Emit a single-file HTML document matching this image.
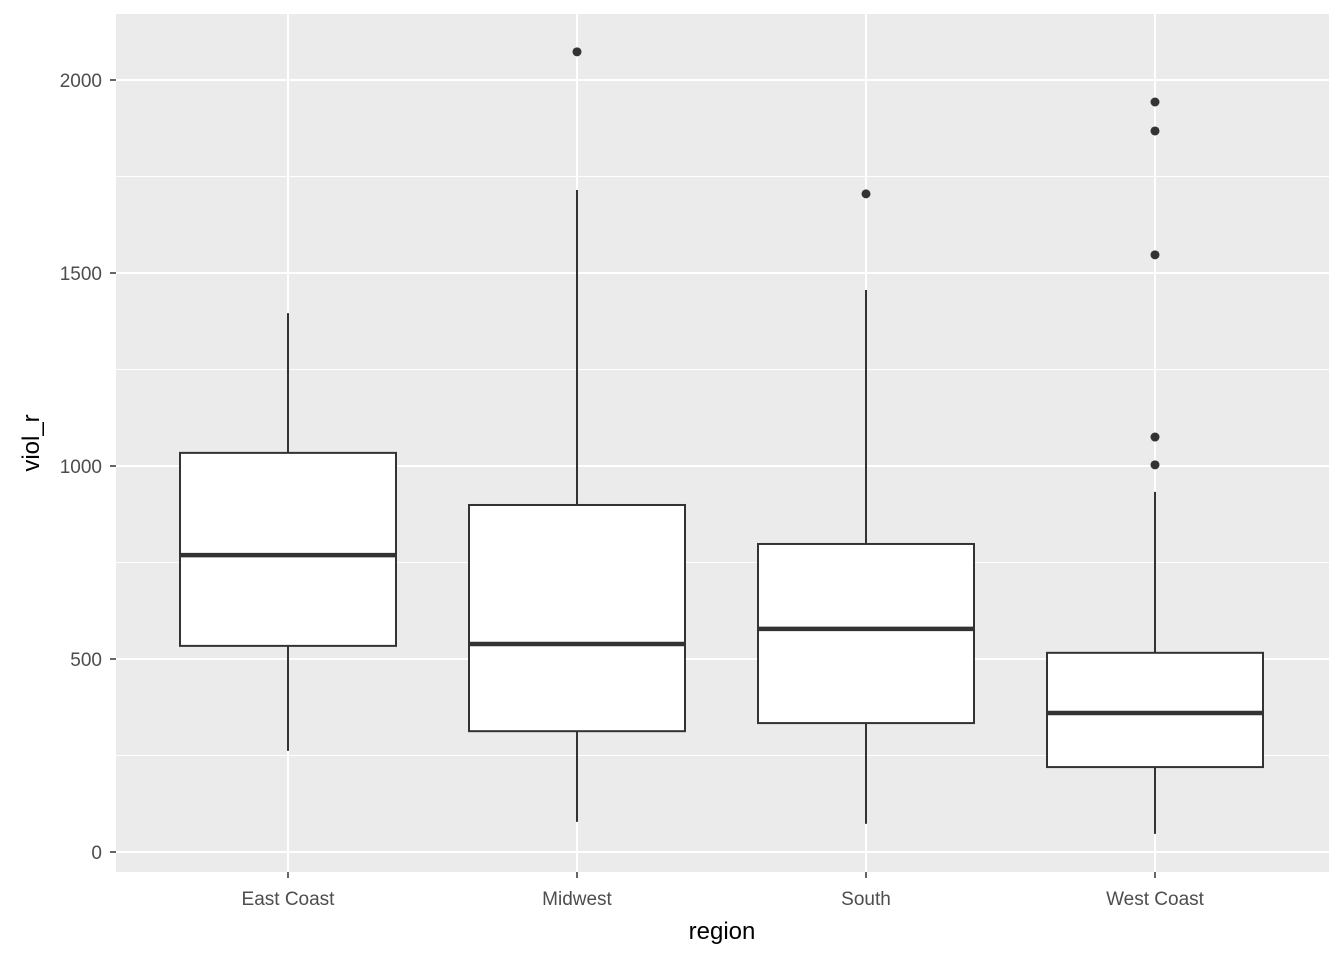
<!DOCTYPE html>
<html><head><meta charset="utf-8"><style>
body{margin:0;background:#fff;}
svg{display:block;font-family:"Liberation Sans",Arial,sans-serif;}
</style></head><body>
<svg id="chart" width="1344" height="960" xmlns="http://www.w3.org/2000/svg">
<rect x="116" y="14" width="1213" height="858" fill="#ebebeb"/>
<g id="grid"></g>
<g id="boxes"></g>
<g id="axes"></g>
<text x="722" y="939" font-size="24" text-anchor="middle" fill="#000">region</text>
<text transform="translate(39,443) rotate(-90)" font-size="24" text-anchor="middle" fill="#000">viol_r</text>
</svg>
<script>
const categories = ["East Coast","Midwest","South","West Coast"];
const whiskerLow = [262, 78, 73, 47];
const q1 = [534, 313, 334, 220];
const medians = [769, 539, 578, 360];
const q3 = [1034, 899, 798, 516];
const whiskerHigh = [1396, 1715, 1456, 933];
const outliers = [[], [2073], [1705], [1943, 1868, 1547, 1075, 1003]];
const yTicks = [0, 500, 1000, 1500, 2000];
const yMinor = [250, 750, 1250, 1750];

const NS = "http://www.w3.org/2000/svg";
const y = v => 852 - v * 0.386;
const x = i => 288 + i * 289;
const bw = 216;
function mk(tag, attrs, parent){const e=document.createElementNS(NS,tag);for(const k in attrs)e.setAttribute(k,attrs[k]);parent.appendChild(e);return e;}
const grid=document.getElementById('grid'), boxes=document.getElementById('boxes'), axes=document.getElementById('axes');
yMinor.forEach(v=>{const l=mk('line',{x1:116,x2:1329,y1:y(v),y2:y(v),stroke:'#fff','stroke-width':1},grid);

});
yTicks.forEach(v=>{const l=mk('line',{x1:116,x2:1329,y1:y(v),y2:y(v),stroke:'#fff','stroke-width':2},grid);


const t=mk('line',{x1:110,x2:116,y1:y(v),y2:y(v),stroke:'#333','stroke-width':1.5},axes);


const lb=mk('text',{x:102,y:y(v)+7,'font-size':19,'text-anchor':'end',fill:'#4d4d4d'},axes);lb.textContent=v;

});
categories.forEach((c,i)=>{const l=mk('line',{x1:x(i),x2:x(i),y1:14,y2:872,stroke:'#fff','stroke-width':2},grid);


const t=mk('line',{x1:x(i),x2:x(i),y1:872,y2:878,stroke:'#333','stroke-width':1.5},axes);


const lb=mk('text',{x:x(i),y:905,'font-size':19,'text-anchor':'middle',fill:'#4d4d4d'},axes);lb.textContent=c;


const g=mk('g',{},boxes);


mk('line',{x1:x(i),x2:x(i),y1:y(whiskerHigh[i]),y2:y(q3[i]),stroke:'#333','stroke-width':2},g);
mk('line',{x1:x(i),x2:x(i),y1:y(q1[i]),y2:y(whiskerLow[i]),stroke:'#333','stroke-width':2},g);
mk('rect',{x:x(i)-bw/2,y:y(q3[i]),width:bw,height:y(q1[i])-y(q3[i]),fill:'#fff',stroke:'#333','stroke-width':2},g);
mk('line',{x1:x(i)-bw/2,x2:x(i)+bw/2,y1:y(medians[i]),y2:y(medians[i]),stroke:'#333','stroke-width':4.5},g);
outliers[i].forEach(o=>{const p=mk('circle',{cx:x(i),cy:y(o),r:4.5,fill:'#333'},g);

});
});
</script>
</body></html>
